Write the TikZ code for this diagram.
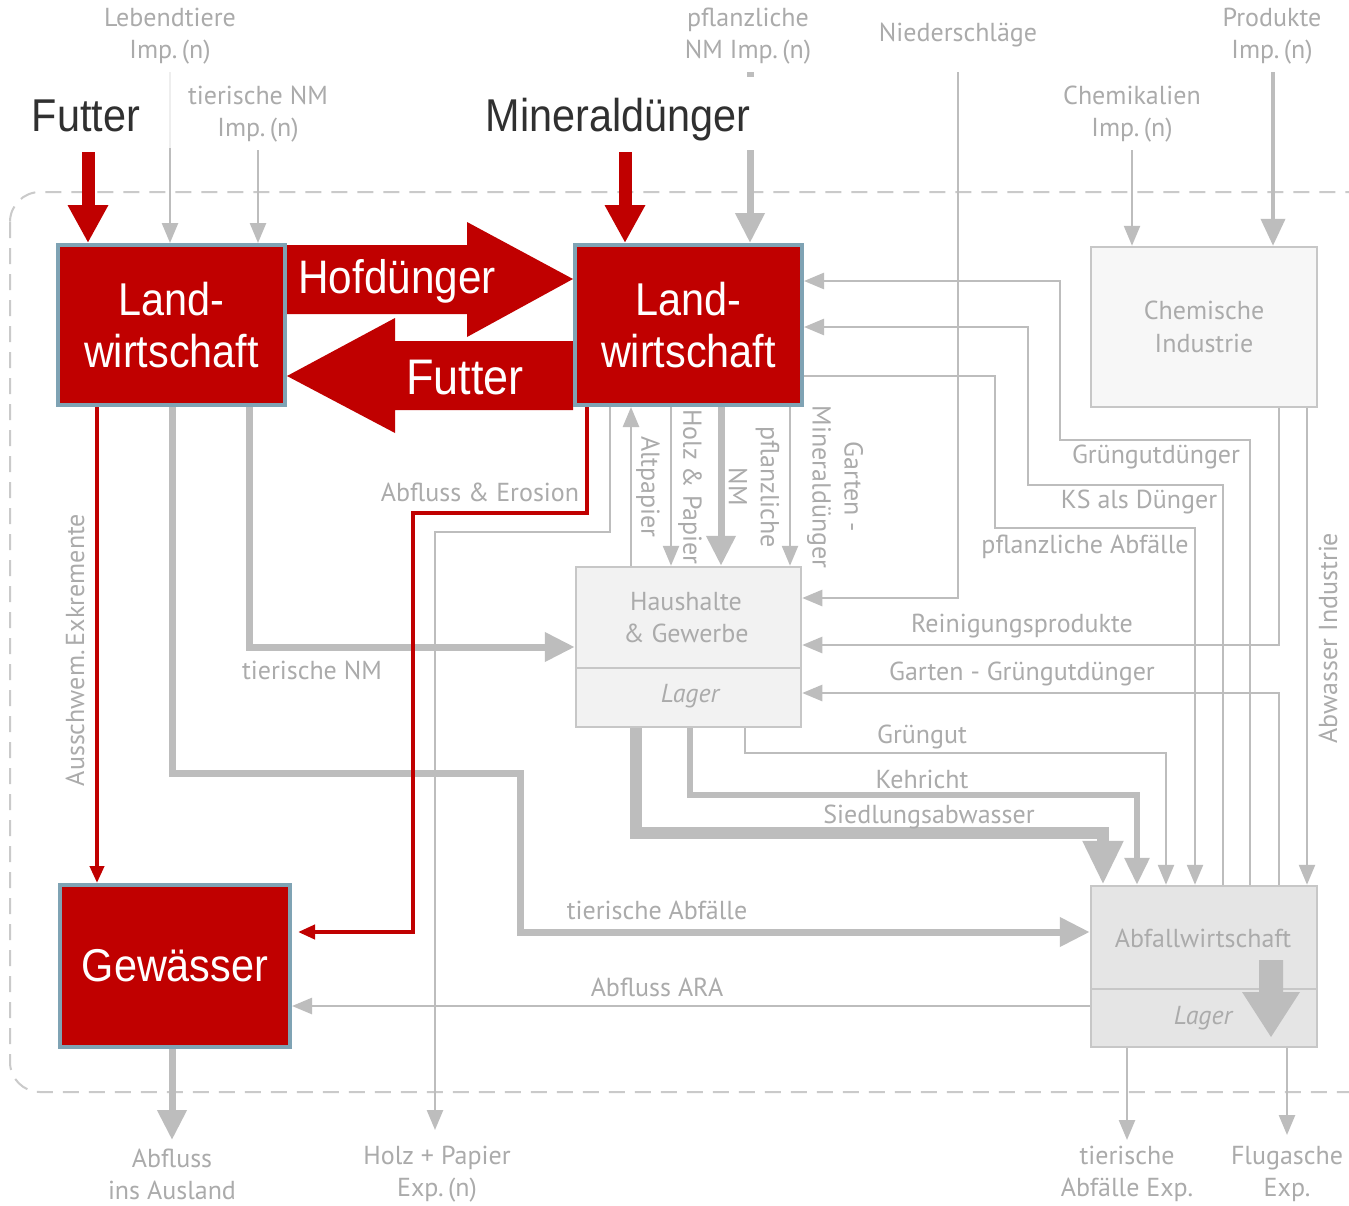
\documentclass[tikz,border=0pt]{standalone}
\usepackage{fontspec}
\setmainfont{PT Sans}
\newfontfamily\arl[FakeStretch=0.9]{Liberation Sans}
\usetikzlibrary{arrows.meta}
\definecolor{lred}{HTML}{C00000}
\definecolor{bord}{HTML}{7FA3B4}
\definecolor{lg}{HTML}{BDBDBD}
\definecolor{tg}{HTML}{ABABAB}
\definecolor{dk}{HTML}{303030}
\pgfdeclarelayer{bg}
\pgfdeclarelayer{bbg}
\pgfsetlayers{bbg,bg,main}
\begin{document}
\begin{tikzpicture}[x=1pt,y=-1pt,
  redbox/.style={draw=bord, line width=4pt, fill=lred, text=white, font=\arl\fontsize{46}{52}\selectfont, align=center, minimum width=227pt, minimum height=160pt, inner sep=0pt},
  graybox/.style={draw=lg!85, line width=2.5pt, inner sep=0pt},
  lab/.style={text=tg, font=\fontsize{26}{32}\selectfont, align=center, inner sep=0pt},
  blab/.style={text=dk, font=\arl\fontsize{46}{52}\selectfont, inner sep=0pt},
  wlab/.style={text=white, font=\arl\fontsize{47}{52}\selectfont, inner sep=0pt},
  gthin/.style={draw=lg, line width=2.5pt, line join=miter},
  gmed/.style={draw=lg, line width=4pt, line join=miter},
  gkeh/.style={draw=lg, line width=6pt, line join=miter},
  gthick/.style={draw=lg, line width=7pt, line join=miter},
  gsied/.style={draw=lg, line width=12pt, line join=miter},
  redthick/.style={draw=lred, line width=13pt},
  redthin/.style={draw=lred, line width=4pt, line join=miter},
  tipS/.style={-{Triangle[length=20pt,width=16pt]}},
  tipM/.style={-{Triangle[length=27pt,width=24pt]}},
  tipL/.style={-{Triangle[length=30pt,width=28pt]}},
  tipXL/.style={-{Triangle[length=44pt,width=38pt]}},
  tipR/.style={-{Triangle[length=38pt,width=38pt]}},
  tipRs/.style={-{Triangle[length=17pt,width=14pt]}}
]
\useasboundingbox (0,0) rectangle (1349,1205);
\begin{pgfonlayer}{bbg}
\fill[white] (0,0) rectangle (1349,1205);
% system boundary
\draw[draw=lg!80, line width=2pt, dash pattern=on 16pt off 10pt, rounded corners=30pt] (10,192) rectangle (1380,1092);
\end{pgfonlayer}

% boxes
\node[redbox] (lw1) at (171.5,325) {Land-\\wirtschaft};
\node[redbox] (lw2) at (688.5,325) {Land-\\wirtschaft};
\node[redbox, minimum width=230pt, minimum height=162pt] (gew) at (175,966) {Gewässer};
\node[graybox, fill=white!97!black, minimum width=226pt, minimum height=160pt, text=tg, font=\fontsize{26}{33}\selectfont, align=center] (chem) at (1204,327) {Chemische\\Industrie};
\node[graybox, fill=white!95!black, minimum width=225pt, minimum height=160pt] (hh) at (688.5,647) {};
\node[graybox, fill=white!90!black, minimum width=226pt, minimum height=161pt] (abf) at (1204,966.5) {};
\draw[draw=lg!85, line width=2.5pt] (hh.west |- 0,668) -- (hh.east |- 0,668);
\draw[draw=lg!85, line width=2.5pt] (abf.west |- 0,989) -- (abf.east |- 0,989);
\node[lab] (hhtxt) at (686,618) {Haushalte\\\& Gewerbe};
\node[lab, font=\itshape\fontsize{26}{32}\selectfont] (hhlag) at (690,696) {Lager};
\node[lab] (abftxt) at (1203,938) {Abfallwirtschaft};
\node[lab, font=\itshape\fontsize{26}{32}\selectfont] (abflag) at (1203,1018) {Lager};
\fill[lg] (1259,960) -- (1283,960) -- (1283,992) -- (1300,992) -- (1271,1037) -- (1242,992) -- (1259,992) -- cycle;

% labels
\node[lab] (lebl) at (170,36) {Lebendtiere\\Imp.\,(n)};
\node[lab] (tnml) at (258,114) {tierische NM\\Imp.\,(n)};
\node[lab] (pnml) at (748,36) {pflanzliche\\NM Imp.\,(n)};
\node[lab] (niel) at (958,35) {Niederschläge};
\node[lab] (chml) at (1132,114) {Chemikalien\\Imp.\,(n)};
\node[lab] (prol) at (1272,36) {Produkte\\Imp.\,(n)};
\node[blab, anchor=base] (futl) at (86,131) {Futter};
\node[blab, anchor=base] (minl) at (618,131) {Mineraldünger};
\node[lab, rotate=90] (ausl) at (75,650) {Ausschwem.\,Exkremente};
\node[lab] (aerl) at (480,492) {Abfluss \& Erosion};
\node[lab] (tnm2) at (312,670) {tierische NM};
\node[lab] (tabl) at (657,910) {tierische Abfälle};
\node[lab] (aral) at (657,987) {Abfluss ARA};
\node[lab, rotate=-90] (altl) at (648,487) {Altpapier};
\node[lab, rotate=-90] (hopl) at (690,487) {Holz \& Papier};
\node[lab, rotate=-90] (pnm2) at (754,487) {pflanzliche\\NM};
\node[lab, rotate=-90] (gmdl) at (835,487) {Garten -\\Mineraldünger};
\node[lab] (ggdl) at (1156,457) {Grüngutdünger};
\node[lab] (ksdl) at (1139,502) {KS als Dünger};
\node[lab] (pabl) at (1085,547) {pflanzliche Abfälle};
\node[lab] (reil) at (1022,626) {Reinigungsprodukte};
\node[lab] (gggl) at (1022,674) {Garten - Grüngutdünger};
\node[lab] (grgl) at (922,737) {Grüngut};
\node[lab] (kehl) at (922,779) {Kehricht};
\node[lab] (siel) at (929,817) {Siedlungsabwasser};
\node[lab, rotate=90] (abil) at (1328,638) {Abwasser Industrie};
\node[lab] (ausll) at (172,1174) {Abfluss\\ins Ausland};
\node[lab] (hpel) at (437,1174) {Holz + Papier\\Exp.\,(n)};
\node[lab] (tael) at (1127,1174) {tierische\\Abfälle Exp.};
\node[lab] (flul) at (1287,1174) {Flugasche\\Exp.};

\begin{pgfonlayer}{bg}
% top inputs
\draw[draw=lg!25, line width=2.5pt] (170,72) -- (170,148);
\draw[gthin,tipS] (170,148) -- (lw1.north -| 170,0);
\draw[gthin,tipS] (258,150) -- (lw1.north -| 258,0);
\draw[gthick] (750,72) -- (750,77);
\draw[gthick,tipL] (750,150) -- (lw2.north -| 750,0);
\draw[gthin,tipS] (958,72) |- (hh.east |- 0,598);
\draw[gthin,tipS] (1132,150) -- (chem.north -| 1132,0);
\draw[gmed,tipM] (1273,72) -- (chem.north -| 1273,0);
\draw[redthick,tipR] (88,152) -- (lw1.north -| 88,0);
\draw[redthick,tipR] (625,152) -- (lw2.north -| 625,0);

% big exchange arrows
\fill[lred] (lw1.east |- 0,245) -- (467,245) -- (467,222) -- (lw2.west |- 0,279) -- (467,337) -- (467,314) -- (lw1.east |- 0,314) -- cycle;
\fill[lred] (lw2.west |- 0,341) -- (395,341) -- (395,318) -- (lw1.east |- 0,376) -- (395,433) -- (395,410) -- (lw2.west |- 0,410) -- cycle;

% from LW1
\draw[gthick,tipL] (lw1.south -| 172,0) -- (172,773) -- (520,773) |- (abf.west |- 0,932);
\draw[gthick,tipL] (lw1.south -| 249,0) |- (hh.west |- 0,647);

% from LW2
\draw[gthin,tipS] (lw2.south -| 610,0) -- (610,532) -- (435,532) -- (435,1130);
\draw[gthin,tipS] (hh.north -| 631,0) -- (lw2.south -| 631,0);
\draw[gthin,tipS] (lw2.south -| 671,0) -- (hh.north -| 671,0);
\draw[gthick,tipL] (lw2.south -| 721,0) -- (hh.north -| 721,0);
\draw[gthin,tipS] (lw2.south -| 790,0) -- (hh.north -| 790,0);

% right side
\draw[gthin,tipS] (abf.north -| 1250,0) -- (1250,440) -- (1060,440) |- (lw2.east |- 0,281);
\draw[gthin,tipS] (abf.north -| 1223,0) -- (1223,485) -- (1028,485) |- (lw2.east |- 0,327);
\draw[gthin,tipS] (lw2.east |- 0,376) -- (995,376) -- (995,528) -- (1195,528) -- (abf.north -| 1195,0);
\draw[gthin,tipS] (chem.south -| 1279,0) |- (hh.east |- 0,645);
\draw[gthin,tipS] (abf.north -| 1279,0) |- (hh.east |- 0,693);
\draw[gthin,tipS] (chem.south -| 1307,0) -- (abf.north -| 1307,0);

% from Haushalte
\draw[gthin,tipS] (hh.south -| 745,0) -- (745,753) -| (abf.north -| 1166,0);
\draw[gkeh,tipM] (hh.south -| 690,0) -- (690,795) -| (abf.north -| 1137,0);
\draw[gsied,tipXL] (hh.south -| 636,0) -- (636,833) -| (abf.north -| 1103,0);

% bottom
\draw[gthin,tipS] (abf.west |- 0,1006) -- (gew.east |- 0,1006);
\draw[gthick,tipL] (gew.south -| 172,0) -- (172,1140);
\draw[gthin,tipS] (abf.south -| 1127,0) -- (1127,1140);
\draw[gthin,tipS] (abf.south -| 1287,0) -- (1287,1135);

% red flows
\draw[redthin,tipRs] (lw1.south -| 97,0) -- (gew.north -| 97,0);
\draw[redthin,tipRs] (lw2.south -| 587,0) -- (587,513) -- (413,513) |- ([xshift=6pt]gew.east |- 0,932);
\end{pgfonlayer}

\node[wlab] (hofl) at (397,281) {Hofdünger};
\node[wlab, font=\arl\fontsize{50}{52}\selectfont] (fut2) at (465,378) {Futter};
\end{tikzpicture}
\end{document}
